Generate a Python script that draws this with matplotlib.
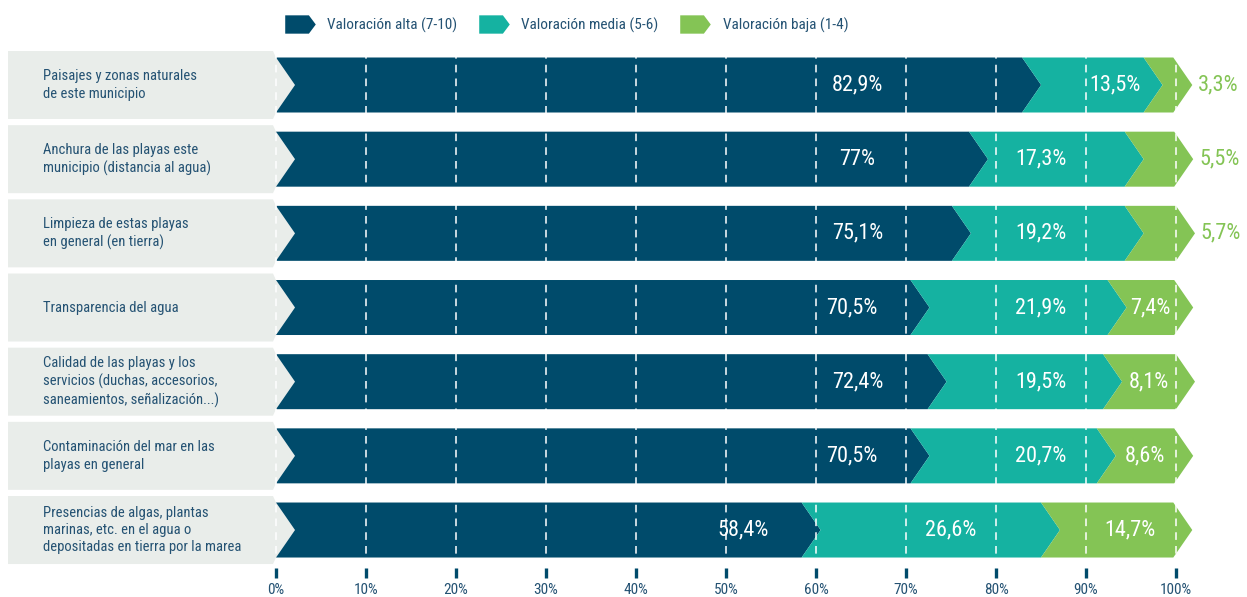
import matplotlib
matplotlib.use("Agg")
import matplotlib.pyplot as plt
from matplotlib import font_manager as fm
from matplotlib.patches import Polygon
from matplotlib.lines import Line2D
from matplotlib.path import Path
import numpy as np

# ---------------- data ----------------
categories = [
    "Paisajes y zonas naturales\nde este municipio",
    "Anchura de las playas este\nmunicipio (distancia al agua)",
    "Limpieza de estas playas\nen general (en tierra)",
    "Transparencia del agua",
    "Calidad de las playas y los\nservicios (duchas, accesorios,\nsaneamientos, señalización...)",
    "Contaminación del mar en las\nplayas en general",
    "Presencias de algas, plantas\nmarinas, etc. en el agua o\ndepositadas en tierra por la marea",
]
alta = [82.9, 77.0, 75.1, 70.5, 72.4, 70.5, 58.4]
media = [13.5, 17.3, 19.2, 21.9, 19.5, 20.7, 26.6]
baja = [3.3, 5.5, 5.7, 7.4, 8.1, 8.6, 14.7]
alta_labels = ["82,9%", "77%", "75,1%", "70,5%", "72,4%", "70,5%", "58,4%"]
media_labels = ["13,5%", "17,3%", "19,2%", "21,9%", "19,5%", "20,7%", "26,6%"]
baja_labels = ["3,3%", "5,5%", "5,7%", "7,4%", "8,1%", "8,6%", "14,7%"]
series_names = ["Valoración alta (7-10)", "Valoración media (5-6)", "Valoración baja (1-4)"]
ticks = [0, 10, 20, 30, 40, 50, 60, 70, 80, 90, 100]
tick_labels = ["0%", "10%", "20%", "30%", "40%", "50%", "60%", "70%", "80%", "90%", "100%"]

# ---------------- style ----------------
C_DARK = "#004b6b"
C_TEAL = "#15b2a1"
C_GREEN = "#84c455"
C_GRAY = "#e9edea"
C_TEXT = "#245273"


def pick(cands):
    for c in cands:
        try:
            fm.findfont(fm.FontProperties(family=c), fallback_to_default=False)
            return c
        except Exception:
            pass
    return "DejaVu Sans"


COND = pick(["Roboto Condensed", "Liberation Sans Narrow", "Open Sans Condensed",
             "DejaVu Sans Condensed", "Roboto", "Liberation Sans"])

W, H = 1247, 597
fig = plt.figure(figsize=(W / 100, H / 100), dpi=100)
ax = fig.add_axes([0, 0, 1, 1])
PX = 9.0          # px per percent
X0 = 276          # px of 0%
Y0, DY = 85.0, 74.17
ax.set_xlim((0 - X0) / PX, (W - X0) / PX)
ax.set_ylim((H - Y0) / DY, (0 - Y0) / DY)
ax.axis("off")

bar_half = 27.5 / DY
box_half = 34.0 / DY
depth = 19.0 / PX
box_left = (8 - X0) / PX
box_right = (273 - X0) / PX


def cell_label_x(s, e):
    """Middle of the widest gridline cell inside the visible part of a segment."""
    lo = s + depth
    edges = [lo] + [t for t in ticks if lo < t < e] + [e]
    best, bw = None, -1
    for a, b in zip(edges[:-1], edges[1:]):
        if b - a >= bw - 0.3:
            best, bw = (a + b) / 2, max(b - a, bw)
    return best


n = len(categories)
vfs = 16
for i in range(n):
    c = i
    gp = [(box_left, c - box_half), (box_right, c - box_half), (0, c - bar_half),
          (depth, c), (0, c + bar_half), (box_right, c + box_half), (box_left, c + box_half)]
    ax.add_patch(Polygon(gp, closed=True, facecolor=C_GRAY, edgecolor="none", zorder=1))
    ax.text((43 - X0) / PX, c, categories[i], ha="left", va="center", fontsize=10.5,
            color=C_TEXT, family=COND, linespacing=1.3, zorder=5)

    start = 0.0
    for vals, col in ((alta, C_DARK), (media, C_TEAL), (baja, C_GREEN)):
        v = vals[i]
        e = start + v
        pts = [(start, c - bar_half), (e, c - bar_half), (e + depth, c), (e, c + bar_half),
               (start, c + bar_half), (start + depth, c)]
        ax.add_patch(Polygon(pts, closed=True, facecolor=col, edgecolor="none", zorder=2))
        start = e

    a, m, b = alta[i], media[i], baja[i]
    ax.text(min(a - 6.5, 64.6), c, alta_labels[i], ha="center", va="center", color="white",
            fontsize=vfs, family=COND, zorder=6)
    ax.text(cell_label_x(a, a + m), c, media_labels[i], ha="center", va="center",
            color="white", fontsize=vfs, family=COND, zorder=6)
    end = a + m + b
    if b < 6:
        ax.text(end + 5.0, c, baja_labels[i], ha="center", va="center", color=C_GREEN,
                fontsize=vfs, family=COND, zorder=6)
    else:
        ax.text(cell_label_x(a + m, end), c, baja_labels[i], ha="center", va="center",
                color="white", fontsize=vfs, family=COND, zorder=6)

# dashed white gridlines
y_top = -box_half
y_bot = (n - 1) + bar_half
for t in ticks:
    ax.plot([t, t], [y_top, y_bot], color="white", lw=1.1, ls=(0, (5, 4)), zorder=3)

# tick marks and labels
tk_top = (568 - Y0) / DY
tk_bot = (578 - Y0) / DY
for t, lab in zip(ticks, tick_labels):
    ax.plot([t, t], [tk_top, tk_bot], color=C_DARK, lw=2.4, solid_capstyle="butt", zorder=3)
    ax.text(t, (590 - Y0) / DY, lab, ha="center", va="center", color=C_TEXT,
            fontsize=11, family=COND)

# legend with pentagon markers
pent = Path([(-1, -0.6), (0.55, -0.6), (1, 0), (0.55, 0.6), (-1, 0.6), (-1, -0.6)],
            [Path.MOVETO, Path.LINETO, Path.LINETO, Path.LINETO, Path.LINETO, Path.CLOSEPOLY])
handles = [Line2D([], [], ls="none", marker=pent, markersize=22, markerfacecolor=col,
                  markeredgecolor="none", label=name)
           for col, name in zip((C_DARK, C_TEAL, C_GREEN), series_names)]
leg = fig.legend(handles=handles, loc="center", bbox_to_anchor=(568 / W, 1 - 25 / H), ncol=3,
                 frameon=False, handlelength=1.6, handletextpad=1.0, columnspacing=1.6,
                 prop={"family": COND, "size": 11})
for t in leg.get_texts():
    t.set_color(C_TEXT)

fig.savefig("out.png", dpi=100)
